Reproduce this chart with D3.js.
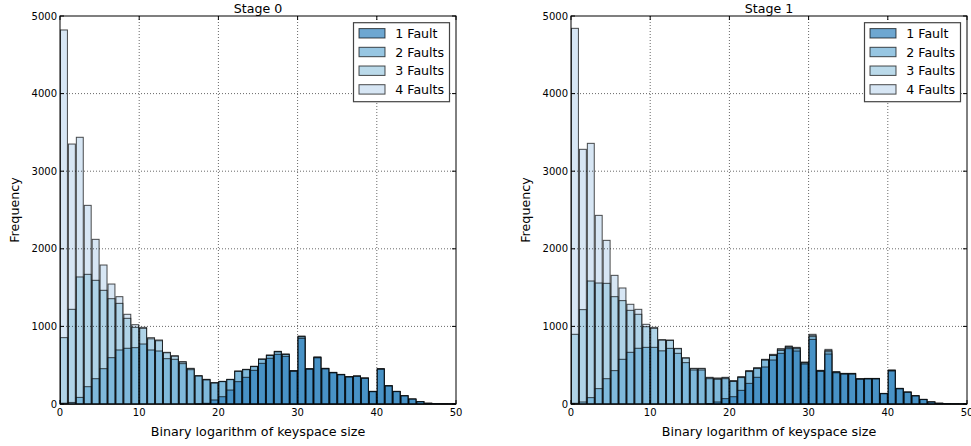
<!DOCTYPE html>
<html>
<head>
<meta charset="utf-8">
<script src="https://cdn.jsdelivr.net/npm/d3@7/dist/d3.min.js"></script>
<style>
  html, body { margin: 0; padding: 0; background: #fff; }
  svg { display: block; font-family: "DejaVu Sans", sans-serif; }
</style>
</head>
<body>
<svg id="chart" width="971" height="446"></svg>
<script>
// ---- data (histogram counts per bin of width 1, bins 0..49) ----
const binStarts = [0,1,2,3,4,5,6,7,8,9,10,11,12,13,14,15,16,17,18,19,20,21,22,23,24,25,26,27,28,29,30,31,32,33,34,35,36,37,38,39,40,41,42,43,44,45,46,47,48,49];
const seriesNames = ["1 Fault", "2 Faults", "3 Faults", "4 Faults"];
const seriesColors = ["#3182bd", "#6baed6", "#9ecae1", "#c6dbef"];
const panelTitles = ["Stage 0", "Stage 1"];
const xTicks = [0, 10, 20, 30, 40, 50];
const yTicks = [0, 1000, 2000, 3000, 4000, 5000];
const xLabel = "Binary logarithm of keyspace size";
const yLabel = "Frequency";

const stage0_f1 = [0,0,0,0,0,0,0,0,0,0,0,0,0,0,0,0,0,2,9,52,94,180,288,344,434,524,589,640,614,420,846,447,595,452,401,376,347,356,330,158,447,231,159,104,62,29,8,3,2,1];
const stage0_f2 = [10,20,85,223,326,455,597,696,718,726,773,696,683,584,576,520,442,360,310,270,288,314,420,442,482,575,625,672,638,426,865,451,600,456,405,379,350,359,333,161,451,234,161,106,63,29,9,3,2,1];
const stage0_f3 = [855,1220,1637,1671,1594,1465,1357,1297,1104,988,975,840,815,660,615,540,455,362,315,272,290,316,422,444,484,577,628,676,641,428,870,453,603,458,406,380,351,360,334,162,453,235,162,106,63,30,9,3,2,1];
const stage0_f4 = [4820,3350,3437,2560,2122,1791,1546,1383,1156,1022,988,855,825,666,623,546,460,365,318,275,292,318,425,447,486,580,631,679,644,430,876,455,606,460,408,382,352,361,335,163,455,236,163,107,64,30,9,3,2,1];

const stage1_f1 = [0,0,0,0,0,0,0,0,0,0,0,0,0,0,0,0,0,5,26,69,94,176,266,344,477,567,653,713,683,515,833,420,644,402,385,385,318,322,322,132,425,195,150,103,57,25,8,4,2,1];
const stage1_f2 = [9,26,82,198,326,430,576,666,718,730,730,685,717,653,533,438,438,326,318,326,290,340,418,456,565,625,690,730,712,528,868,426,674,408,389,389,322,326,326,134,432,198,152,105,58,25,9,4,2,1];
const stage1_f3 = [898,1216,1585,1559,1555,1383,1332,1207,1156,996,975,822,818,712,590,455,455,338,330,338,296,346,424,462,570,632,705,740,722,535,885,430,690,412,392,392,324,328,328,135,435,200,153,106,59,26,9,4,2,1];
const stage1_f4 = [4841,3282,3359,2431,2109,1658,1495,1285,1220,1027,988,830,825,717,597,460,460,344,335,344,301,352,430,468,576,640,713,747,730,541,898,434,704,417,395,395,326,330,330,137,438,202,155,107,60,26,9,4,2,1];

const stages = [
  [stage0_f1, stage0_f2, stage0_f3, stage0_f4],
  [stage1_f1, stage1_f2, stage1_f3, stage1_f4]
];

// ---- layout ----
const alpha = 0.7;
const panelLeft = [60, 571];
const panelWidth = 396;
const plotTop = 16, plotBottom = 404;

const svg = d3.select("#chart");

stages.forEach((series, p) => {
  const x0 = panelLeft[p];
  const x = d3.scaleLinear().domain([0, 50]).range([x0, x0 + panelWidth]);
  const y = d3.scaleLinear().domain([0, 5000]).range([plotBottom, plotTop]);
  const g = svg.append("g");

  // bars: draw 4 Faults first, 1 Fault last (on top)
  const order = [3, 2, 1, 0];
  order.forEach(si => {
    g.append("g")
      .selectAll("rect")
      .data(binStarts.map((b, i) => ({b, v: series[si][i]})))
      .join("rect")
      .attr("x", d => x(d.b) + 0.5)
      .attr("width", d => x(d.b + 1) - x(d.b) - 1)
      .attr("y", d => y(d.v))
      .attr("height", d => y(0) - y(d.v))
      .attr("fill", seriesColors[si])
      .attr("fill-opacity", alpha)
      .attr("stroke", "#000")
      .attr("stroke-opacity", alpha)
      .attr("stroke-width", 1);
  });

  // grid (dotted, above bars)
  const grid = g.append("g").attr("stroke", "#000").attr("stroke-width", 0.8)
    .attr("stroke-dasharray", "1,2").attr("stroke-opacity", 0.75);
  xTicks.slice(1, -1).forEach(t => {
    grid.append("line").attr("x1", x(t)).attr("x2", x(t)).attr("y1", plotTop).attr("y2", plotBottom);
  });
  yTicks.slice(1, -1).forEach(t => {
    grid.append("line").attr("x1", x0).attr("x2", x0 + panelWidth).attr("y1", y(t)).attr("y2", y(t));
  });

  // frame
  g.append("rect").attr("x", x0).attr("y", plotTop).attr("width", panelWidth).attr("height", plotBottom - plotTop)
    .attr("fill", "none").attr("stroke", "#000").attr("stroke-width", 1);

  // inside ticks on all sides
  const tk = g.append("g").attr("stroke", "#000").attr("stroke-width", 1);
  xTicks.forEach(t => {
    tk.append("line").attr("x1", x(t)).attr("x2", x(t)).attr("y1", plotBottom).attr("y2", plotBottom - 4);
    tk.append("line").attr("x1", x(t)).attr("x2", x(t)).attr("y1", plotTop).attr("y2", plotTop + 4);
  });
  yTicks.forEach(t => {
    tk.append("line").attr("x1", x0).attr("x2", x0 + 4).attr("y1", y(t)).attr("y2", y(t));
    tk.append("line").attr("x1", x0 + panelWidth).attr("x2", x0 + panelWidth - 4).attr("y1", y(t)).attr("y2", y(t));
  });

  // tick labels
  g.append("g").selectAll("text").data(xTicks).join("text")
    .attr("x", d => x(d)).attr("y", plotBottom + 12)
    .attr("text-anchor", "middle").attr("font-size", 10).attr("fill", "#000")
    .text(d => d);
  g.append("g").selectAll("text").data(yTicks).join("text")
    .attr("x", x0 - 3).attr("y", d => y(d) + 3.6)
    .attr("text-anchor", "end").attr("font-size", 10).attr("fill", "#000")
    .text(d => d);

  // title and axis labels
  g.append("text").attr("x", x0 + panelWidth / 2).attr("y", 13)
    .attr("text-anchor", "middle").attr("font-size", 12.6).text(panelTitles[p]);
  g.append("text").attr("x", x0 + panelWidth / 2).attr("y", 436)
    .attr("text-anchor", "middle").attr("font-size", 12.7).text(xLabel);
  g.append("text").attr("transform", `translate(${x0 - 41},${(plotTop + plotBottom) / 2}) rotate(-90)`)
    .attr("text-anchor", "middle").attr("font-size", 12.7).text(yLabel);

  // legend
  const lx = x0 + 293.5, ly = 22.7;
  const lg = g.append("g");
  lg.append("rect").attr("x", lx).attr("y", ly).attr("width", 96).attr("height", 79)
    .attr("fill", "#fff").attr("stroke", "#444").attr("stroke-width", 1.2);
  seriesNames.forEach((name, i) => {
    const cy = 33.3 + i * 18.7;
    lg.append("rect").attr("x", lx + 5.5).attr("y", cy - 4.7).attr("width", 26).attr("height", 9.4)
      .attr("fill", seriesColors[i]).attr("fill-opacity", alpha)
      .attr("stroke", "#000").attr("stroke-opacity", alpha).attr("stroke-width", 1);
    lg.append("text").attr("x", lx + 41.8).attr("y", cy + 4.5)
      .attr("font-size", 12.6).text(name);
  });
});
</script>
</body>
</html>
